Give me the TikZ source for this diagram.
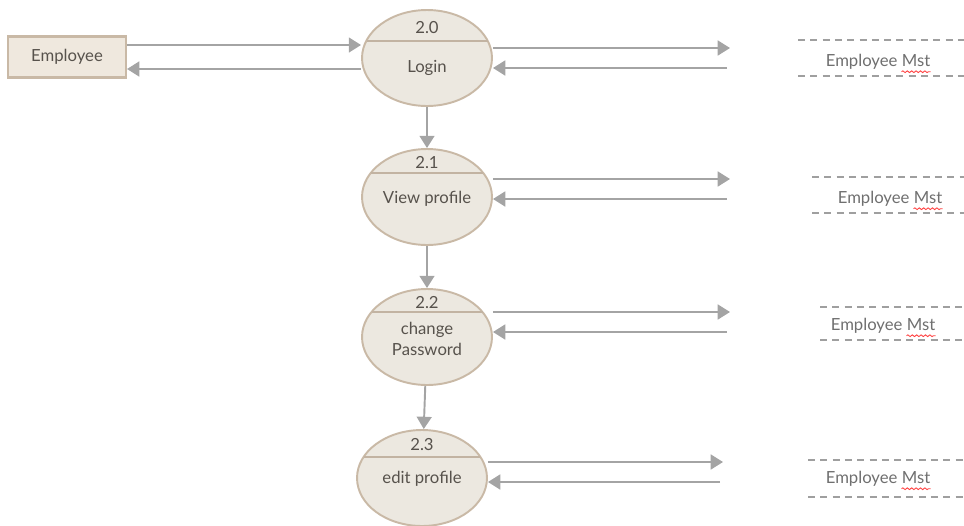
\documentclass[tikz,border=0pt]{standalone}
\usepackage{fontspec}
\setmainfont{Lato}
\usepackage{tikz}
\usetikzlibrary{arrows.meta,shapes.geometric,calc}
\usetikzlibrary{positioning}
\usetikzlibrary{decorations,decorations.pathmorphing}

\definecolor{procfill}{HTML}{ECE8E0}
\definecolor{procline}{HTML}{C9B9A6}
\definecolor{entfill}{HTML}{EFE8DE}
\definecolor{flowgray}{HTML}{A4A4A4}
\definecolor{textgray}{HTML}{57524C}
\definecolor{storegray}{HTML}{6F6F6F}

\tikzset{
  proc/.style={ellipse, draw=procline, fill=procfill, line width=1.1pt,
    minimum width=2.6cm, minimum height=1.92cm, inner sep=0pt},
  ent/.style={rectangle, draw=procline, fill=entfill, line width=1.2pt,
    minimum width=2.36cm, minimum height=0.82cm, text=textgray,
    font=\fontsize{9.5}{11}\selectfont},
  lbl/.style={text=textgray, inner sep=0pt, align=center,
    font=\fontsize{9.5}{11.5}\selectfont},
  storetext/.style={text=storegray, inner sep=0pt,
    font=\fontsize{9.5}{11}\selectfont},
  flow/.style={draw=flowgray, line width=1.1pt,
    -{Triangle[length=7pt,width=8.5pt]}},
  storeline/.style={draw=gray!75, line width=0.7pt, dash pattern=on 4pt off 3pt},
  divider/.style={draw=procline!90!gray, line width=0.8pt},
  typo/.style={draw=red!75, line width=0.5pt, decorate,
    decoration={snake, amplitude=0.5pt, segment length=2.5pt}}
}

\begin{document}
\begin{tikzpicture}[x=0.02cm,y=-0.02cm]
	\useasboundingbox (0,0) rectangle (964,525);

	%% external entity
	\node[ent] (emp) at (67,57) {Employee};

	%% processes
	\node[proc] (p0) at (427,58) {};
	\node[proc] (p1) at (427,197) {};
	\node[proc] (p2) at (427,337) {};
	\node[proc] (p3) at (422,478) {};

	\draw[divider] (366.5,41) -- (487.5,41);
	\draw[divider] (370.7,173) -- (483.3,173);
	\draw[divider] (371.5,312) -- (482.5,312);
	\draw[divider] (363.6,457) -- (480.4,457);

	\node[lbl] (n0) at (427,28) {2.0};
	\node[lbl] (n1) at (427,163) {2.1};
	\node[lbl] (n2) at (427,303) {2.2};
	\node[lbl] (n3) at (422,445) {2.3};

	\node[lbl] (t0) at (427,68) {Login};
	\node[lbl] (t1) at (427,199) {View profile};
	\node[lbl] (t2) at (427,339) {change\\Password};
	\node[lbl] (t3) at (422,479) {edit profile};

	%% data stores
	\node[storetext] (s0) at (878,62) {Employee Mst};
	\node[storetext] (s1) at (890,199) {Employee Mst};
	\node[storetext] (s2) at (883,326) {Employee Mst};
	\node[storetext] (s3) at (878,479) {Employee Mst};

	\draw[storeline] (798,40) -- (964,40);  \draw[storeline] (798,76) -- (964,76);
	\draw[storeline] (812,177) -- (964,177); \draw[storeline] (812,213) -- (964,213);
	\draw[storeline] (820,307) -- (964,307); \draw[storeline] (820,340) -- (964,340);
	\draw[storeline] (808,460) -- (964,460); \draw[storeline] (808,497) -- (964,497);

	%% spell marks
	\foreach \s in {s0,s1,s2,s3}
		\draw[typo] ($(\s.base east)+(-29,5)$) -- ($(\s.base east)+(0,5)$);

	%% entity flows
	\coordinate (e1) at (0,45);
	\coordinate (e2) at (0,69);
	\draw[flow] (emp.east |- e1) -- (p0.west |- e1);
	\draw[flow] (p0.west |- e2) -- (emp.east |- e2);

	%% process chain
	\draw[flow] (p0) -- (p1);
	\draw[flow] (p1) -- (p2);
	\draw[flow] (p2) -- (p3);

	%% store flows
	\coordinate (o0) at (730,48);  \coordinate (i0) at (727,68);
	\coordinate (o1) at (730,179); \coordinate (i1) at (727,199);
	\coordinate (o2) at (730,312); \coordinate (i2) at (727,332);
	\coordinate (o3) at (723,462); \coordinate (i3) at (720,482);

	\foreach \k in {0,1,2,3} {
		\draw[flow] (p\k.east |- o\k) -- (o\k);
		\draw[flow] (i\k) -- (p\k.east |- i\k);
	}
\end{tikzpicture}
\end{document}
